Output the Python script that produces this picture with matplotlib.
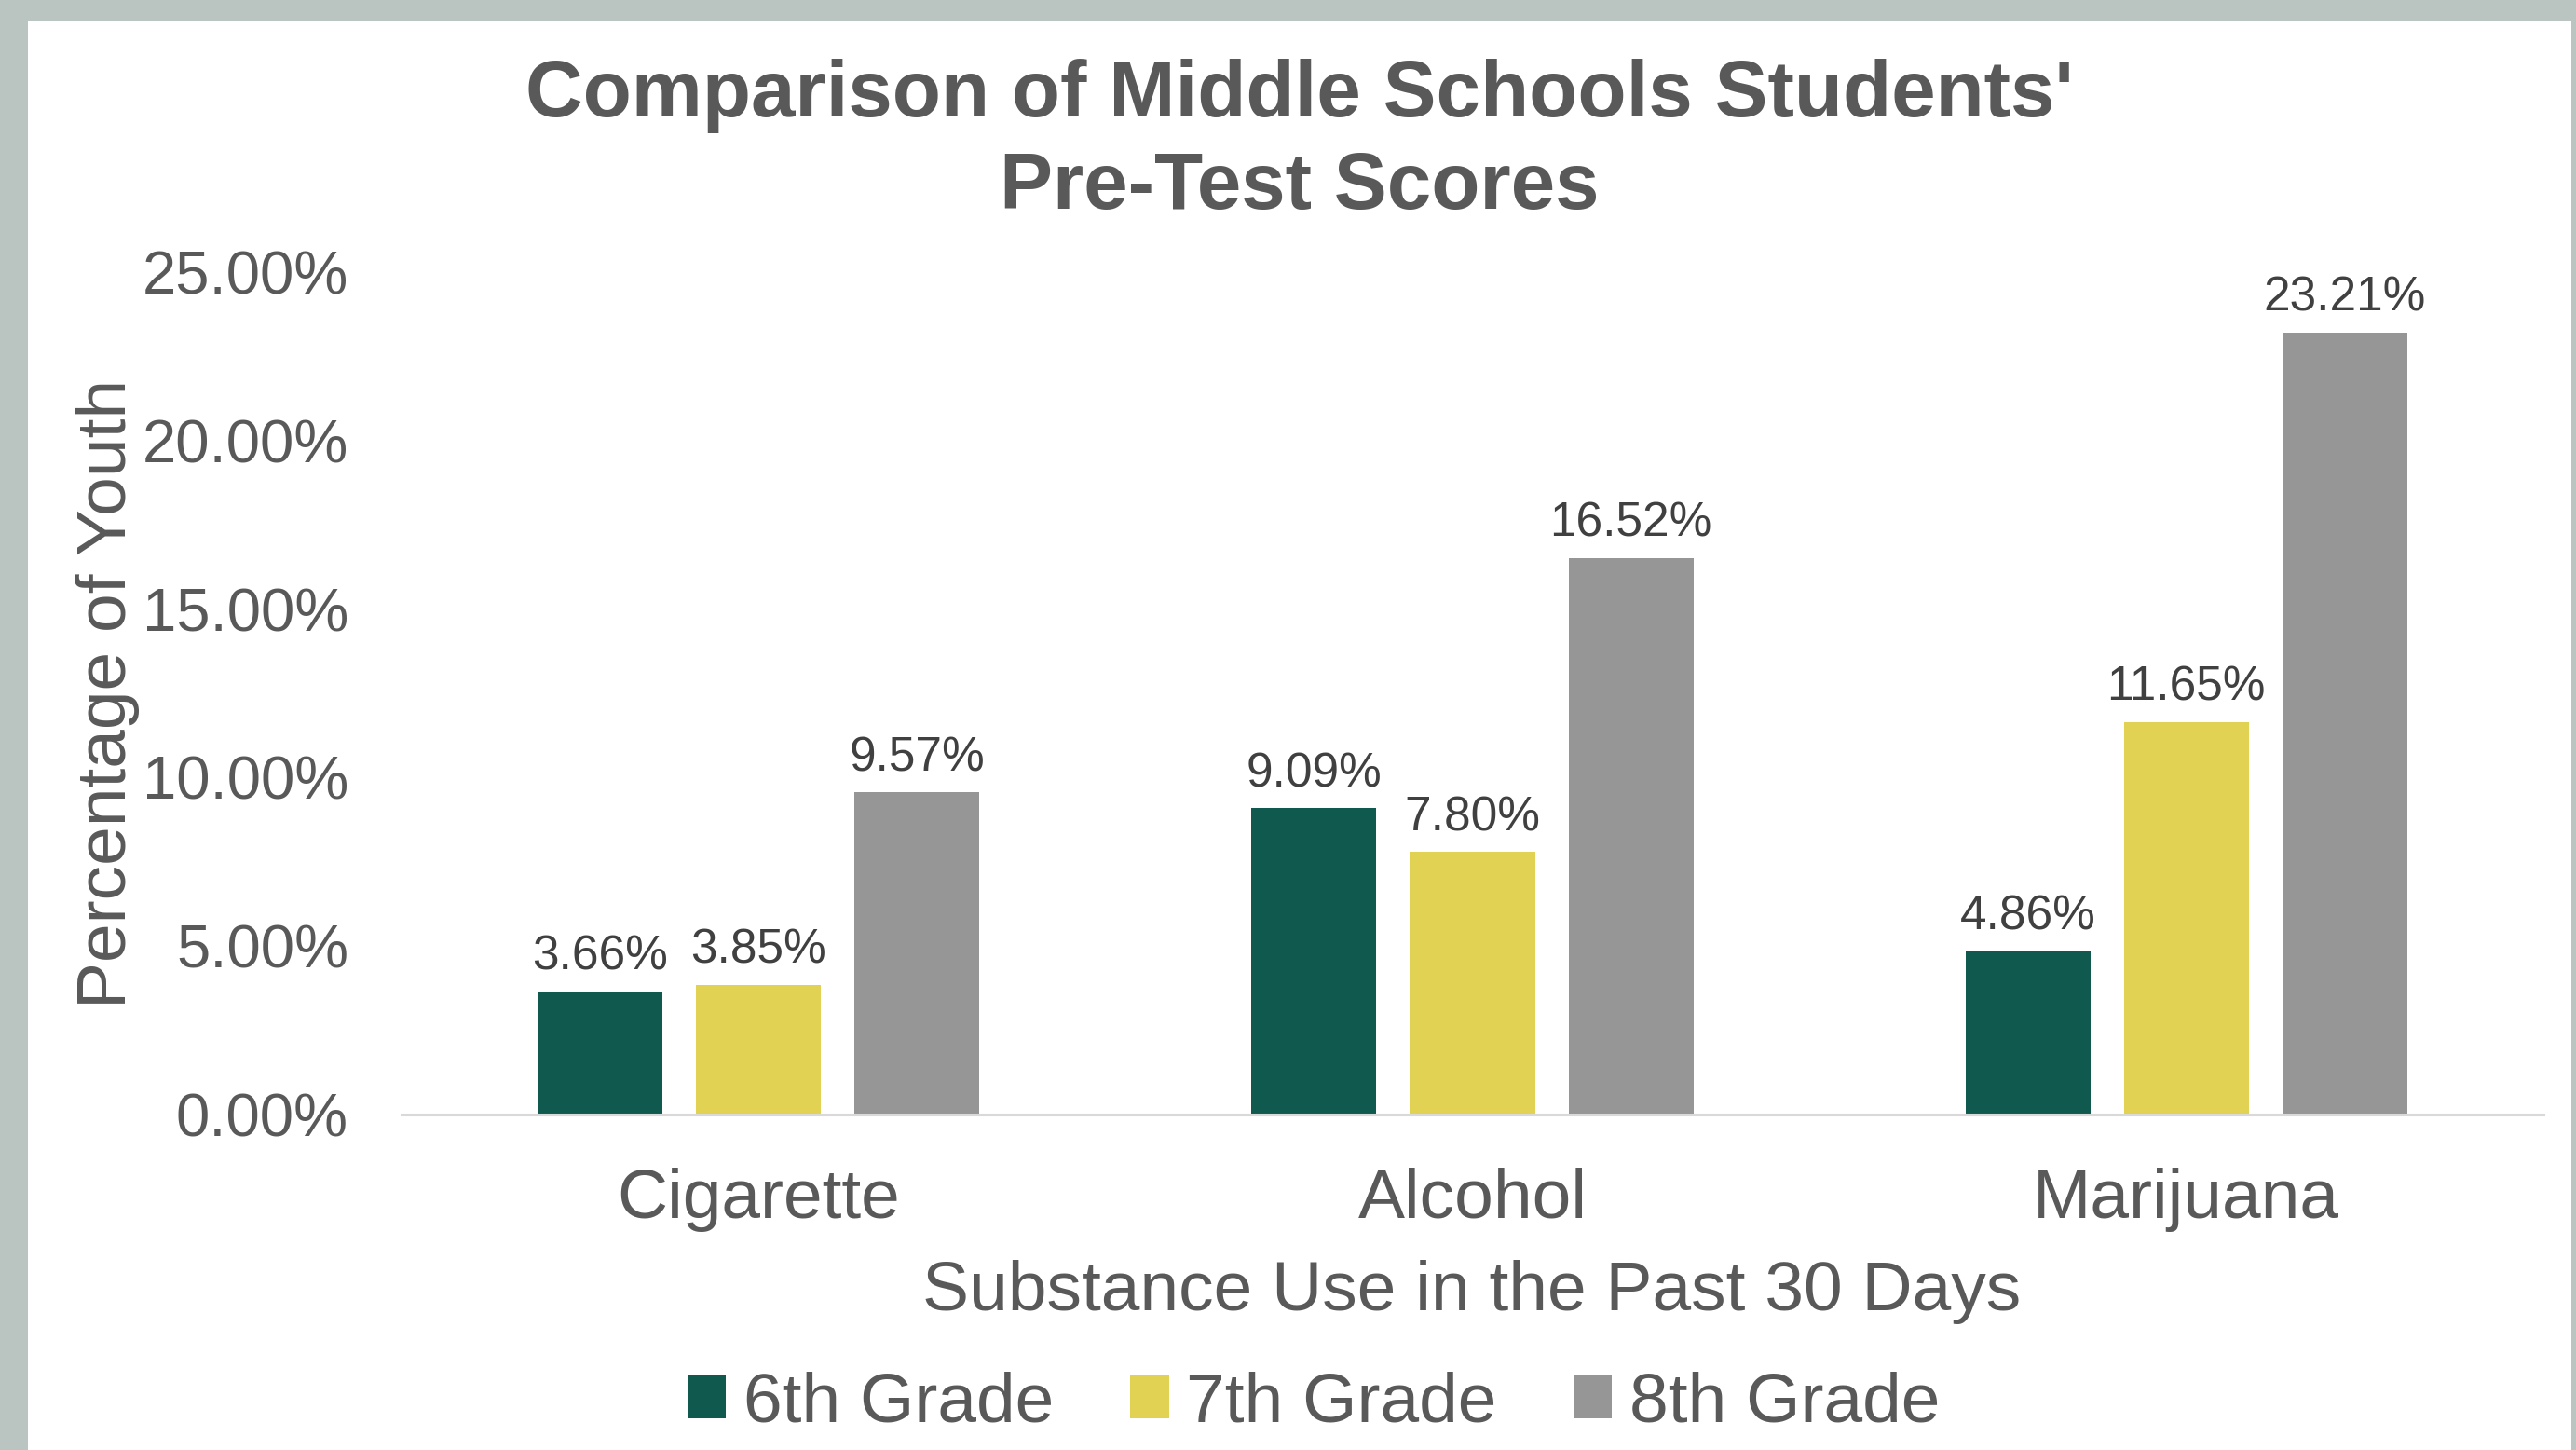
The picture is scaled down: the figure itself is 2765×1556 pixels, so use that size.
import matplotlib
matplotlib.use('Agg')
import matplotlib.pyplot as plt
from matplotlib.patches import Patch, Rectangle
from matplotlib.ticker import FuncFormatter
import numpy as np

plt.rcParams['font.family'] = ['Liberation Sans', 'DejaVu Sans']

# Survey results (share of youth reporting use in the past 30 days)
substances = ['Cigarette', 'Alcohol', 'Marijuana']
grades = ['6th Grade', '7th Grade', '8th Grade']
grade6 = [3.66, 9.09, 4.86]
grade7 = [3.85, 7.80, 11.65]
grade8 = [9.57, 16.52, 23.21]
yticks = [0, 5, 10, 15, 20, 25]

colors = ['#10594E', '#E1D253', '#969696']
text_grey = '#595959'
label_grey = '#404040'

W, H, DPI = 2765, 1556, 100
fig = plt.figure(figsize=(W / DPI, H / DPI), dpi=DPI, facecolor='#BAC4C1')

# white slide area inside the coloured frame
fig.patches.append(Rectangle((30 / W, 0), (2760 - 30) / W, 1 - 23 / H,
                             transform=fig.transFigure, facecolor='white',
                             edgecolor='none', zorder=-10))

ax = fig.add_axes([431 / W, 1 - 1196 / H, (2730 - 431) / W, (1196 - 292) / H])
ax.set_facecolor('none')

x = np.arange(len(substances))
bar_w = 0.175
step = 0.222
for j, (vals, c) in enumerate(zip([grade6, grade7, grade8], colors)):
    bars = ax.bar(x + (j - 1) * step, vals, width=bar_w, color=c, zorder=2)
    for b, v in zip(bars, vals):
        ax.annotate(f'{v:.2f}%', (b.get_x() + b.get_width() / 2, v),
                    xytext=(0, 16.5), textcoords='offset points',
                    ha='center', va='baseline', fontsize=37, color=label_grey)

ax.set_xlim(-0.5, 2.5)
ax.set_ylim(0, 25)
ax.set_yticks(yticks)
ax.yaxis.set_major_formatter(FuncFormatter(lambda v, _: f'{v:.2f}%'))
ax.set_xticks(x)
ax.set_xticklabels(substances)
ax.tick_params(axis='y', length=0, pad=41, labelsize=47, labelcolor=text_grey)
ax.tick_params(axis='x', length=0, pad=41, labelsize=54, labelcolor=text_grey)

for side in ['top', 'right', 'left']:
    ax.spines[side].set_visible(False)
ax.spines['bottom'].set_color('#D9D9D9')
ax.spines['bottom'].set_linewidth(2.2)
ax.spines['bottom'].set_zorder(3)

# title, two lines
fig.text(1395 / W, 1 - 125 / H, "Comparison of Middle Schools Students'",
         ha='center', va='baseline', fontsize=61.5, fontweight='bold', color=text_grey)
fig.text(1395 / W, 1 - 224 / H, 'Pre-Test Scores',
         ha='center', va='baseline', fontsize=61.5, fontweight='bold', color=text_grey)

# axis titles
fig.text(1580 / W, 1 - 1406 / H, 'Substance Use in the Past 30 Days',
         ha='center', va='baseline', fontsize=54, color=text_grey)
fig.text(81 / W, 1 - 744 / H, 'Percentage of Youth', rotation=90,
         ha='left', va='center', fontsize=54, color=text_grey)

handles = [Patch(facecolor=c, edgecolor='none') for c in colors]
fig.legend(handles, grades, loc='center', bbox_to_anchor=(1410 / W, 1 - 1506 / H),
           ncol=3, frameon=False, fontsize=54, labelcolor=text_grey,
           handlelength=0.55, handleheight=0.55, handletextpad=0.25,
           columnspacing=1.1, borderpad=0)

fig.savefig('out.png', dpi=DPI, facecolor=fig.get_facecolor())
